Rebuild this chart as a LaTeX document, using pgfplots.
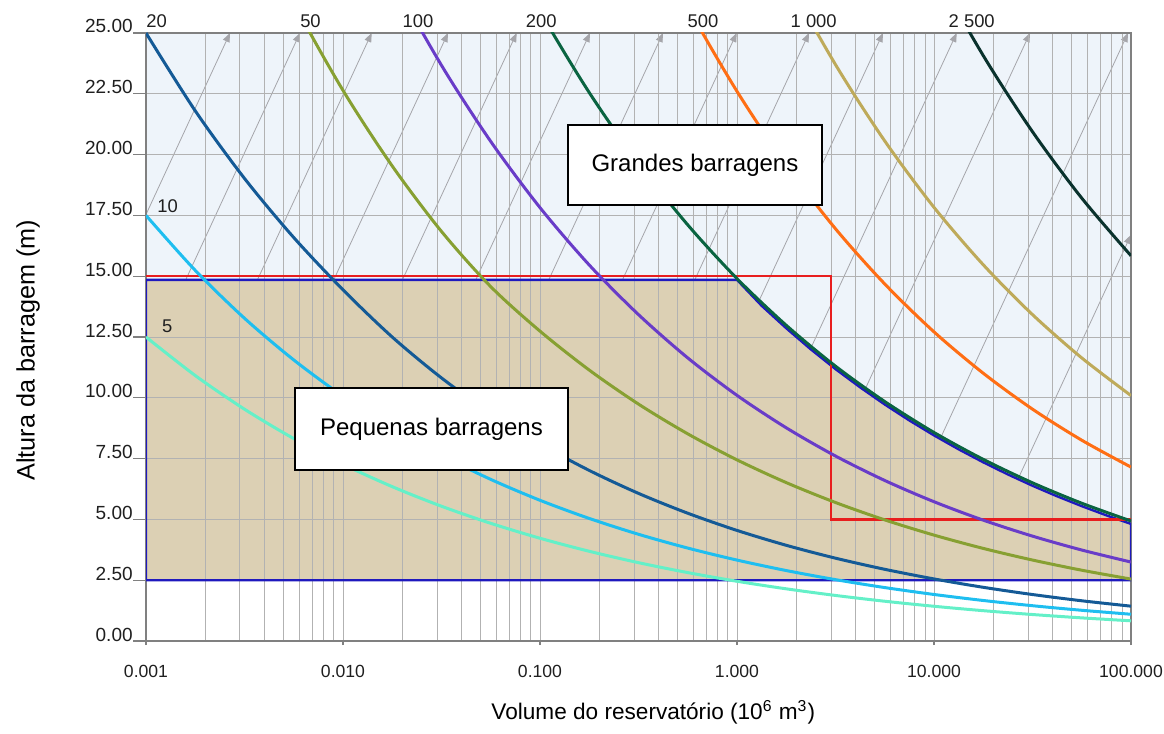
\documentclass[border=0pt]{standalone}
\usepackage{pgfplots}
\pgfplotsset{compat=1.18}
\usepackage{fontspec}
\setmainfont{Liberation Sans}
\usetikzlibrary{arrows.meta}
\definecolor{bgblue}{RGB}{238,244,250}
\definecolor{tanc}{RGB}{220,208,180}
\definecolor{bline}{RGB}{30,25,190}
\definecolor{rline}{RGB}{232,30,30}
\definecolor{c5}{RGB}{100,240,200}
\definecolor{c10}{RGB}{30,190,240}
\definecolor{c20}{RGB}{20,90,150}
\definecolor{c50}{RGB}{135,160,50}
\definecolor{c100}{RGB}{105,60,200}
\definecolor{c200}{RGB}{10,100,65}
\definecolor{c500}{RGB}{255,110,20}
\definecolor{c1000}{RGB}{190,170,90}
\definecolor{c2500}{RGB}{10,50,45}
\definecolor{diag}{RGB}{165,165,170}
\begin{document}
\begin{tikzpicture}
\begin{axis}[
  name=ax,
  set layers,
  xmode=log,
  width=492.5pt, height=304pt, scale only axis,
  xmin=0.001, xmax=100, ymin=0, ymax=25,
  clip mode=individual,
  xtick={0.001,0.01,0.1,1,10,100},
  xticklabels={0.001,0.010,0.100,1.000,10.000,100.000},
  ytick={0,2.5,5,7.5,10,12.5,15,17.5,20,22.5,25},
  /pgf/number format/assume math mode=true,
  yticklabel style={anchor=base east, inner sep=0pt, font=\fontsize{9.5}{11}\selectfont, /pgf/number format/fixed, /pgf/number format/fixed zerofill, /pgf/number format/precision=2},
  xticklabel style={yshift=-2pt, font=\fontsize{8.8}{10}\selectfont},
  tick label style={black!88},
  xmajorgrids=true, xminorgrids=true, ymajorgrids=true,
  major grid style={black!30, line width=0.5pt},
  minor grid style={black!30, line width=0.5pt},
  axis line style={black!50, line width=0.6pt},
  tick style={black!50, line width=0.6pt},
  tick align=outside,
  xtick pos=bottom, ytick pos=left,
  major tick length=6.5pt, minor tick length=0pt,
  xtick style={/pgfplots/major tick length=2pt},
  xlabel={Volume do reservatório (10\textsuperscript{6} m\textsuperscript{3})},
  ylabel={Altura da barragem (m)},
  xlabel style={at={(axis description cs:0.515,-0.117)}, anchor=center, font=\fontsize{11.3}{13}\selectfont},
  ylabel style={at={(axis description cs:-0.1198,0.478)}, anchor=center, font=\fontsize{12.6}{14}\selectfont},
  no markers,
]
% light blue background
\addplot[draw=none, fill=bgblue, on layer=axis background] coordinates {(0.001,2.5) (100,2.5) (100,25) (0.001,25)} -- cycle;
% diagonal guide lines
\begin{scope}[on layer=axis background]
\addplot[diag, line width=0.4pt, -{Triangle[length=4.5pt,width=3.5pt]}] coordinates {(1.383e-4,2.5) (2.670e-3,25)};
\addplot[diag, line width=0.4pt, -{Triangle[length=4.5pt,width=3.5pt]}] coordinates {(3.133e-4,2.5) (6.048e-3,25)};
\addplot[diag, line width=0.4pt, -{Triangle[length=4.5pt,width=3.5pt]}] coordinates {(7.244e-4,2.5) (1.3985e-2,25)};
\addplot[diag, line width=0.4pt, -{Triangle[length=4.5pt,width=3.5pt]}] coordinates {(1.767e-3,2.5) (3.412e-2,25)};
\addplot[diag, line width=0.4pt, -{Triangle[length=4.5pt,width=3.5pt]}] coordinates {(3.945e-3,2.5) (7.614e-2,25)};
\addplot[diag, line width=0.4pt, -{Triangle[length=4.5pt,width=3.5pt]}] coordinates {(9.292e-3,2.5) (0.1794,25)};
\addplot[diag, line width=0.4pt, -{Triangle[length=4.5pt,width=3.5pt]}] coordinates {(2.181e-2,2.5) (0.4211,25)};
\addplot[diag, line width=0.4pt, -{Triangle[length=4.5pt,width=3.5pt]}] coordinates {(5.162e-2,2.5) (0.99655,25)};
\addplot[diag, line width=0.4pt, -{Triangle[length=4.5pt,width=3.5pt]}] coordinates {(0.12017,2.5) (2.3206,25)};
\addplot[diag, line width=0.4pt, -{Triangle[length=4.5pt,width=3.5pt]}] coordinates {(0.28531,2.5) (5.5093,25)};
\addplot[diag, line width=0.4pt, -{Triangle[length=4.5pt,width=3.5pt]}] coordinates {(0.67532,2.5) (13.036,25)};
\addplot[diag, line width=0.4pt, -{Triangle[length=4.5pt,width=3.5pt]}] coordinates {(1.5907,2.5) (30.71,25)};
\addplot[diag, line width=0.4pt, -{Triangle[length=4.5pt,width=3.5pt]}] coordinates {(5.0012,2.5) (96.56,25)};
\addplot[diag, line width=0.4pt, -{Triangle[length=4.5pt,width=3.5pt]}] coordinates {(15.441,2.5) (100,16.7)};
\end{scope}
% small dam region fill
\addplot[draw=none, fill=tanc, on layer=axis background] coordinates {
(0.001,2.5) (0.001,14.85) (1,14.85) (1.3335,13.785) (1.7783,12.86) (2.3714,11.99)
(3.1623,11.18) (4.2170,10.43) (5.6234,9.725) (7.4989,9.068) (10,8.454) (13.335,7.882)
(17.783,7.348) (23.714,6.849) (31.623,6.384) (42.170,5.950) (56.234,5.545) (74.989,5.167)
(100,4.814) (100,2.5)} -- cycle;
% outlines
\addplot[bline, line width=1.2pt] coordinates {
(0.001,2.5) (0.001,14.85) (1,14.85) (1.3335,13.785) (1.7783,12.86) (2.3714,11.99)
(3.1623,11.18) (4.2170,10.43) (5.6234,9.725) (7.4989,9.068) (10,8.454) (13.335,7.882)
(17.783,7.348) (23.714,6.849) (31.623,6.384) (42.170,5.950) (56.234,5.545) (74.989,5.167)
(100,4.814) (100,2.5)} -- cycle;
\addplot[rline, line width=1.1pt] coordinates {(0.001,15) (3.0,15) (3.0,5) (100,5)};
% curves
\addplot[c5, line width=1.5pt, smooth] coordinates {
(0.001,12.5) (0.0017783,10.915) (0.0031623,9.531) (0.0056234,8.323) (0.01,7.267)
(0.017783,6.346) (0.031623,5.541) (0.056234,4.839) (0.1,4.225) (0.17783,3.689)
(0.31623,3.221) (0.56234,2.813) (1,2.456) (1.7783,2.145) (3.1623,1.873)
(5.6234,1.635) (10,1.428) (17.783,1.247) (31.623,1.089) (56.234,0.951) (100,0.830)};
\addplot[c10, line width=1.5pt, smooth] coordinates {
(0.001,17.5) (0.0017783,15.239) (0.0031623,13.270) (0.0056234,11.556) (0.01,10.063)
(0.017783,8.763) (0.031623,7.631) (0.056234,6.645) (0.1,5.786) (0.17783,5.039)
(0.31623,4.388) (0.56234,3.821) (1,3.327) (1.7783,2.897) (3.1623,2.523)
(5.6234,2.197) (10,1.913) (17.783,1.666) (31.623,1.451) (56.234,1.263) (100,1.100)};
\addplot[c20, line width=1.5pt, smooth] coordinates {
(0.001,25) (0.0017783,21.80) (0.0031623,19.02) (0.0056234,16.59) (0.01,14.44)
(0.017783,12.498) (0.031623,10.817) (0.056234,9.362) (0.1,8.103) (0.17783,7.013)
(0.31623,6.070) (0.56234,5.254) (1,4.547) (1.7783,3.935) (3.1623,3.406)
(5.6234,2.948) (10,2.552) (17.783,2.208) (31.623,1.911) (56.234,1.654) (100,1.432)};
\addplot[c50, line width=1.5pt, smooth] coordinates {
(0.0031623,30.43) (0.0056234,26.25) (0.01,22.64)
(0.017783,19.53) (0.031623,16.84) (0.056234,14.57) (0.1,12.74) (0.17783,11.14)
(0.31623,9.741) (0.56234,8.518) (1,7.448) (1.7783,6.513) (3.1623,5.695)
(5.6234,4.980) (10,4.354) (17.783,3.807) (31.623,3.329) (56.234,2.911) (100,2.546)};
\addplot[c100, line width=1.5pt, smooth] coordinates {
(0.01,31.44) (0.017783,27.28) (0.031623,23.67) (0.056234,20.54) (0.1,17.82) (0.17783,15.46)
(0.31623,13.42) (0.56234,11.64) (1,10.10) (1.7783,8.766) (3.1623,7.606)
(5.6234,6.600) (10,5.727) (17.783,4.969) (31.623,4.312) (56.234,3.741) (100,3.246)};
\addplot[c200, line width=1.5pt, smooth] coordinates {
(0.056234,29.73) (0.1,25.90) (0.17783,22.55)
(0.31623,19.64) (0.56234,17.11) (1,14.90) (1.7783,12.98) (3.1623,11.30)
(5.6234,9.845) (10,8.574) (17.783,7.468) (31.623,6.504) (56.234,5.665) (100,4.934)};
\addplot[c500, line width=1.5pt, smooth] coordinates {
(0.31623,30.14) (0.56234,26.10) (1,22.60) (1.7783,19.57) (3.1623,16.95)
(5.6234,14.68) (10,12.71) (17.783,11.01) (31.623,9.533) (56.234,8.256) (100,7.150)};
\addplot[c1000, line width=1.5pt, smooth] coordinates {
(1,31.5) (1.7783,27.32) (3.1623,23.70)
(5.6234,20.56) (10,17.83) (17.783,15.47) (31.623,13.42) (56.234,11.64) (100,10.09)};
\addplot[c2500, line width=1.5pt, smooth] coordinates {
(5.6234,31.80) (10,27.67) (17.783,24.07) (31.623,20.94) (56.234,18.21) (100,15.84)};
% curve labels
\begin{scope}[font=\fontsize{9.2}{10}\selectfont, text=black!88, inner sep=0pt]
\node[anchor=south west, yshift=2.5pt] at (axis cs:0.001,25) {20};
\node[anchor=south, yshift=2.5pt] at (axis cs:0.00684,25) {50};
\node[anchor=south, yshift=2.5pt] at (axis cs:0.02403,25) {100};
\node[anchor=south, yshift=2.5pt] at (axis cs:0.10153,25) {200};
\node[anchor=south, yshift=2.5pt] at (axis cs:0.6721,25) {500};
\node[anchor=south, yshift=2.5pt] at (axis cs:2.451,25) {1 000};
\node[anchor=south, yshift=2.5pt] at (axis cs:15.54,25) {2 500};
\node[anchor=south west, xshift=5.5pt, yshift=1pt] at (axis cs:0.001,17.5) {10};
\node[anchor=south west, xshift=7.8pt, yshift=2pt] at (axis cs:0.001,12.5) {5};
\end{scope}
% boxes
\node[draw=black, line width=0.8pt, fill=white, minimum width=127pt, minimum height=40pt, font=\fontsize{12}{14}\selectfont] at (axis cs:0.6118,19.57) {Grandes barragens};
\node[draw=black, line width=0.8pt, fill=white, minimum width=136.5pt, minimum height=41pt, font=\fontsize{12}{14}\selectfont] at (axis cs:0.02813,8.717) {Pequenas barragens};
\end{axis}
\pgfresetboundingbox
\path ([xshift=-73pt,yshift=-46pt]ax.south west) rectangle ([xshift=16.5pt,yshift=16.5pt]ax.north east);
\end{tikzpicture}
\end{document}
